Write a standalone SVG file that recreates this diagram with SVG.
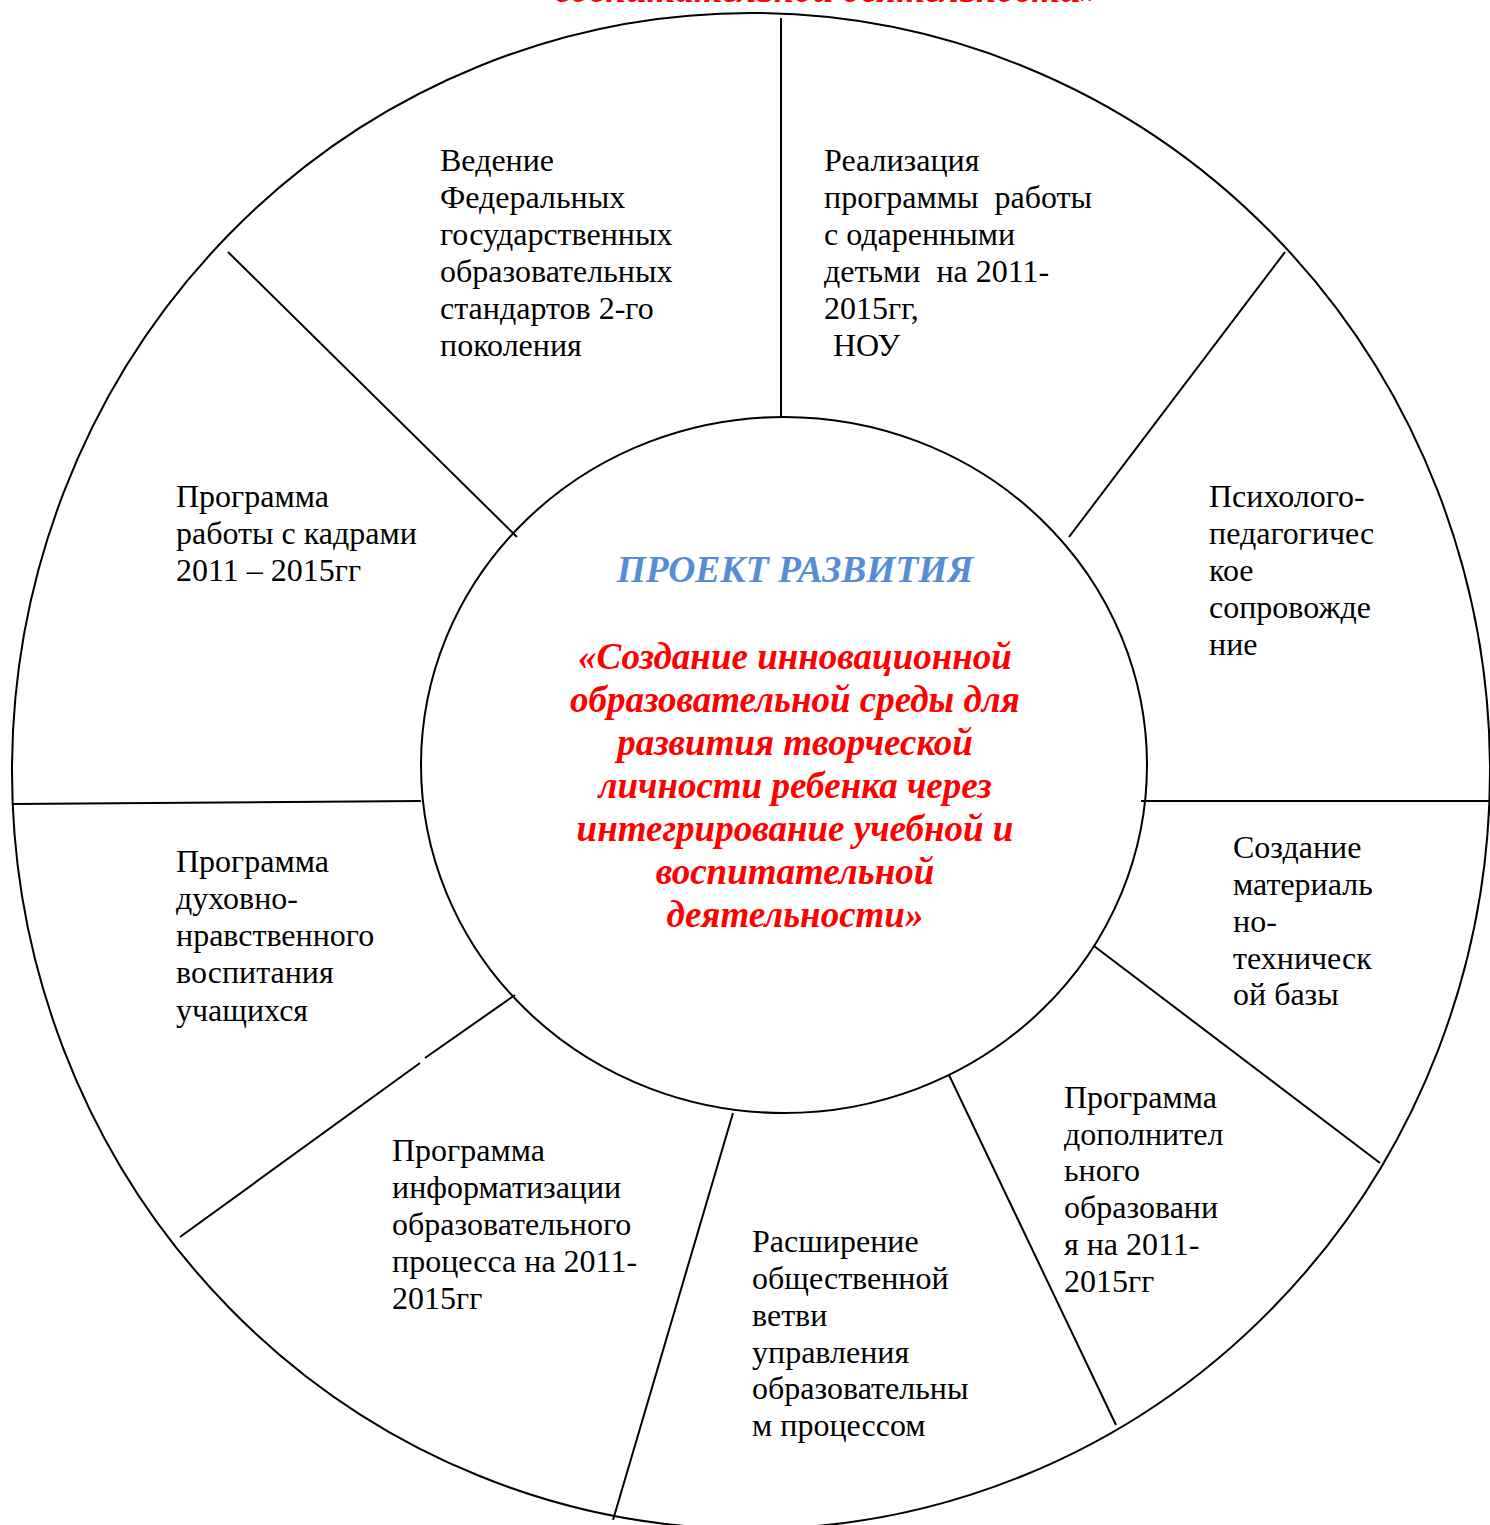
<svg xmlns="http://www.w3.org/2000/svg" width="1490" height="1525" viewBox="0 0 1490 1525">
<style>
.ln{stroke:#000;stroke-width:2;fill:none}
.t{font-family:"Liberation Serif","Times New Roman",serif;font-size:32px;fill:#000}
.red{font-family:"Liberation Serif","Times New Roman",serif;font-size:37px;font-weight:bold;font-style:italic;fill:#ff0000;text-anchor:middle}
.blue{font-family:"Liberation Serif","Times New Roman",serif;font-size:37.5px;font-weight:bold;font-style:italic;fill:#558ed5;text-anchor:middle}
</style>
<rect width="1490" height="1525" fill="#fff"/>
<text class="red" x="827" y="2">воспитательной деятельности»</text>
<g id="outer">
<ellipse class="ln" cx="751" cy="771" rx="739" ry="758"/>
<rect x="1240" y="1328" width="5" height="4" fill="#fff" transform="rotate(-48 1243 1330)"/>
</g>
<g id="connectors">
<line class="ln" x1="781" y1="18" x2="781" y2="417"/>
<line class="ln" x1="228" y1="252" x2="517" y2="537"/>
<line class="ln" x1="1285" y1="252" x2="1069" y2="537"/>
<line class="ln" x1="12" y1="804" x2="421" y2="801"/>
<line class="ln" x1="1141" y1="801" x2="1490" y2="801"/>
<line class="ln" x1="1094" y1="946" x2="1380" y2="1163"/>
<line class="ln" x1="949" y1="1075" x2="1116" y2="1425"/>
<line class="ln" x1="733" y1="1113" x2="613" y2="1520"/>
<line class="ln" x1="515" y1="995" x2="425" y2="1058"/>
<line class="ln" x1="420" y1="1063" x2="180" y2="1237"/>
</g>
<g id="center">
<ellipse class="ln" cx="784" cy="765" rx="363" ry="348"/>
<text class="blue" x="795" y="582">ПРОЕКТ РАЗВИТИЯ</text>
<text class="red" x="795" y="669">«Создание инновационной</text>
<text class="red" x="795" y="712">образовательной среды для</text>
<text class="red" x="795" y="755">развития творческой</text>
<text class="red" x="795" y="798">личности ребенка через</text>
<text class="red" x="795" y="841">интегрирование учебной и</text>
<text class="red" x="795" y="884">воспитательной</text>
<text class="red" x="795" y="927">деятельности»</text>
</g>
<g id="node-fgos">
<text class="t" x="440" y="171">Ведение</text>
<text class="t" x="440" y="208">Федеральных</text>
<text class="t" x="440" y="245">государственных</text>
<text class="t" x="440" y="282">образовательных</text>
<text class="t" x="440" y="319">стандартов 2-го</text>
<text class="t" x="440" y="356">поколения</text>
</g>
<g id="node-gifted">
<text class="t" x="824" y="171">Реализация</text>
<text class="t" x="824" y="208" xml:space="preserve">программы  работы</text>
<text class="t" x="824" y="245">с одаренными</text>
<text class="t" x="824" y="282" xml:space="preserve">детьми  на 2011-</text>
<text class="t" x="824" y="319">2015гг,</text>
<text class="t" x="833" y="356">НОУ</text>
</g>
<g id="node-psych">
<text class="t" x="1209" y="507">Психолого-</text>
<text class="t" x="1209" y="544">педагогичес</text>
<text class="t" x="1209" y="581">кое</text>
<text class="t" x="1209" y="618">сопровожде</text>
<text class="t" x="1209" y="655">ние</text>
</g>
<g id="node-base">
<text class="t" x="1233" y="858">Создание</text>
<text class="t" x="1233" y="895">материаль</text>
<text class="t" x="1233" y="932">но-</text>
<text class="t" x="1233" y="969">техническ</text>
<text class="t" x="1233" y="1005">ой базы</text>
</g>
<g id="node-dop">
<text class="t" x="1064" y="1108">Программа</text>
<text class="t" x="1064" y="1145">дополнител</text>
<text class="t" x="1064" y="1181">ьного</text>
<text class="t" x="1064" y="1218">образовани</text>
<text class="t" x="1064" y="1255">я на 2011-</text>
<text class="t" x="1064" y="1292">2015гг</text>
</g>
<g id="node-upr">
<text class="t" x="752" y="1252">Расширение</text>
<text class="t" x="752" y="1289">общественной</text>
<text class="t" x="752" y="1326">ветви</text>
<text class="t" x="752" y="1363">управления</text>
<text class="t" x="752" y="1399">образовательны</text>
<text class="t" x="752" y="1436">м процессом</text>
</g>
<g id="node-inf">
<text class="t" x="392" y="1161">Программа</text>
<text class="t" x="392" y="1198">информатизации</text>
<text class="t" x="392" y="1235">образовательного</text>
<text class="t" x="392" y="1272">процесса на 2011-</text>
<text class="t" x="392" y="1309">2015гг</text>
</g>
<g id="node-dnv">
<text class="t" x="176" y="872">Программа</text>
<text class="t" x="176" y="909">духовно-</text>
<text class="t" x="176" y="946">нравственного</text>
<text class="t" x="176" y="983">воспитания</text>
<text class="t" x="176" y="1021">учащихся</text>
</g>
<g id="node-kadry">
<text class="t" x="176" y="507">Программа</text>
<text class="t" x="176" y="544">работы с кадрами</text>
<text class="t" x="176" y="581">2011 – 2015гг</text>
</g>
</svg>
